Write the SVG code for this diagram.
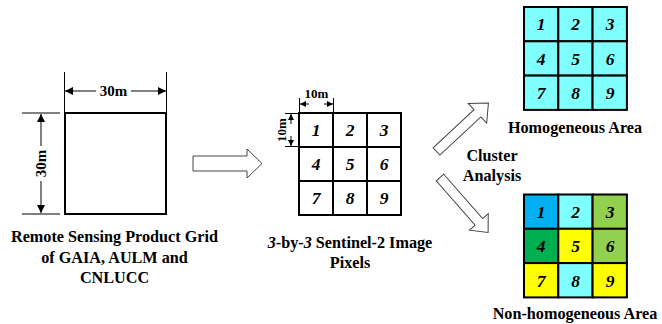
<svg xmlns="http://www.w3.org/2000/svg" width="662" height="324" viewBox="0 0 662 324">
  <style>
    .lbl { font-family: "Liberation Serif", "Times New Roman", serif; font-weight: bold; font-size: 16.2px; fill: #000; }
    .dim { font-family: "Liberation Serif", "Times New Roman", serif; font-weight: bold; font-size: 15px; fill: #000; }
    .dim-s { font-family: "Liberation Serif", "Times New Roman", serif; font-weight: bold; font-size: 13px; fill: #000; }
    .num { font-family: "Liberation Serif", "Times New Roman", serif; font-weight: bold; font-style: italic; font-size: 17.5px; fill: #000; }
    .thin { stroke: #000; stroke-width: 1; fill: none; }
    .cell { stroke: #000; stroke-width: 2; }
    .block { fill: #fff; stroke: #444; stroke-width: 1; }
  </style>
  <defs>
    <marker id="ah" viewBox="0 0 10 10" refX="10" refY="5" markerWidth="9" markerHeight="8" markerUnits="userSpaceOnUse" orient="auto">
      <path d="M0,0 L10,5 L0,10 z" fill="#000"/>
    </marker>
    <marker id="ahs" viewBox="0 0 10 10" refX="10" refY="5" markerWidth="7" markerHeight="6" markerUnits="userSpaceOnUse" orient="auto">
      <path d="M0,0 L10,5 L0,10 z" fill="#000"/>
    </marker>
    <path id="blk-up" d="M0,-5 L56,-5 L56,-13.5 L71,0 L56,13.5 L56,5 L0,5 Z"/>
    <path id="blk-down" d="M0,-5 L59,-5 L59,-12.5 L73,0 L59,12.5 L59,5 L0,5 Z"/>
  </defs>

  <!-- product grid cell, 30 m -->
  <g id="product-grid">
    <rect x="65" y="113" width="101" height="101" fill="#fff" stroke="#000" stroke-width="2"/>
    <line class="thin" x1="64.5" y1="72" x2="64.5" y2="112"/>
    <line class="thin" x1="166.5" y1="72" x2="166.5" y2="112"/>
    <line class="thin" x1="96" y1="91" x2="65" y2="91" marker-end="url(#ah)"/>
    <line class="thin" x1="131" y1="91" x2="166" y2="91" marker-end="url(#ah)"/>
    <text class="dim" x="113.5" y="96" text-anchor="middle">30m</text>
    <line class="thin" x1="22" y1="113" x2="60" y2="113"/>
    <line class="thin" x1="22" y1="214" x2="60" y2="214"/>
    <line class="thin" x1="41" y1="146" x2="41" y2="114" marker-end="url(#ah)"/>
    <line class="thin" x1="41" y1="181" x2="41" y2="213" marker-end="url(#ah)"/>
    <text class="dim" transform="translate(46,163.5) rotate(-90)" text-anchor="middle">30m</text>
    <text class="lbl" x="114.5" y="242" text-anchor="middle">Remote Sensing Product Grid</text>
    <text class="lbl" x="114.5" y="262.5" text-anchor="middle">of GAIA, AULM and</text>
    <text class="lbl" x="114.5" y="283" text-anchor="middle">CNLUCC</text>
  </g>

  <!-- 3x3 Sentinel-2 pixels -->
  <g id="sentinel-pixels">
    <g fill="#fff">
      <rect class="cell" x="299" y="113" width="34" height="34"/>
      <rect class="cell" x="333" y="113" width="34" height="34"/>
      <rect class="cell" x="367" y="113" width="34" height="34"/>
      <rect class="cell" x="299" y="147" width="34" height="34"/>
      <rect class="cell" x="333" y="147" width="34" height="34"/>
      <rect class="cell" x="367" y="147" width="34" height="34"/>
      <rect class="cell" x="299" y="181" width="34" height="34"/>
      <rect class="cell" x="333" y="181" width="34" height="34"/>
      <rect class="cell" x="367" y="181" width="34" height="34"/>
    </g>
    <g text-anchor="middle">
      <text class="num" x="316" y="136">1</text>
      <text class="num" x="350" y="136">2</text>
      <text class="num" x="384" y="136">3</text>
      <text class="num" x="316" y="170">4</text>
      <text class="num" x="350" y="170">5</text>
      <text class="num" x="384" y="170">6</text>
      <text class="num" x="316" y="204">7</text>
      <text class="num" x="350" y="204">8</text>
      <text class="num" x="384" y="204">9</text>
    </g>
    <line class="thin" x1="299.5" y1="98" x2="299.5" y2="112"/>
    <line class="thin" x1="333.5" y1="98" x2="333.5" y2="112"/>
    <line class="thin" x1="309" y1="104" x2="300" y2="104" marker-end="url(#ahs)"/>
    <line class="thin" x1="324" y1="104" x2="333" y2="104" marker-end="url(#ahs)"/>
    <text class="dim-s" x="316.5" y="98" text-anchor="middle">10m</text>
    <line class="thin" x1="285" y1="113.5" x2="299" y2="113.5"/>
    <line class="thin" x1="285" y1="146.5" x2="299" y2="146.5"/>
    <line class="thin" x1="291" y1="124" x2="291" y2="114" marker-end="url(#ahs)"/>
    <line class="thin" x1="291" y1="136" x2="291" y2="146" marker-end="url(#ahs)"/>
    <text class="dim-s" transform="translate(286,130) rotate(-90)" text-anchor="middle">10m</text>
    <text class="lbl" x="350" y="248" text-anchor="middle"><tspan font-style="italic">3</tspan>-by-<tspan font-style="italic">3</tspan> Sentinel-2 Image</text>
    <text class="lbl" x="350" y="268" text-anchor="middle">Pixels</text>
  </g>

  <!-- homogeneous result -->
  <g id="homogeneous">
    <g fill="#80FFFF">
      <rect class="cell" x="524" y="7" width="34.3" height="34.3"/>
      <rect class="cell" x="558.3" y="7" width="34.3" height="34.3"/>
      <rect class="cell" x="592.6" y="7" width="34.3" height="34.3"/>
      <rect class="cell" x="524" y="41.3" width="34.3" height="34.3"/>
      <rect class="cell" x="558.3" y="41.3" width="34.3" height="34.3"/>
      <rect class="cell" x="592.6" y="41.3" width="34.3" height="34.3"/>
      <rect class="cell" x="524" y="75.6" width="34.3" height="34.3"/>
      <rect class="cell" x="558.3" y="75.6" width="34.3" height="34.3"/>
      <rect class="cell" x="592.6" y="75.6" width="34.3" height="34.3"/>
    </g>
    <g text-anchor="middle">
      <text class="num" x="541" y="30">1</text>
      <text class="num" x="575.5" y="30">2</text>
      <text class="num" x="610" y="30">3</text>
      <text class="num" x="541" y="64.5">4</text>
      <text class="num" x="575.5" y="64.5">5</text>
      <text class="num" x="610" y="64.5">6</text>
      <text class="num" x="541" y="99">7</text>
      <text class="num" x="575.5" y="99">8</text>
      <text class="num" x="610" y="99">9</text>
    </g>
    <text class="lbl" x="575" y="133" text-anchor="middle">Homogeneous Area</text>
  </g>

  <!-- non-homogeneous result -->
  <g id="non-homogeneous">
    <rect class="cell" x="524" y="194.5" width="34.3" height="34.3" fill="#00B0F0"/>
    <rect class="cell" x="558.3" y="194.5" width="34.3" height="34.3" fill="#80FFFF"/>
    <rect class="cell" x="592.6" y="194.5" width="34.3" height="34.3" fill="#92D050"/>
    <rect class="cell" x="524" y="228.8" width="34.3" height="34.3" fill="#00B050"/>
    <rect class="cell" x="558.3" y="228.8" width="34.3" height="34.3" fill="#FFFF00"/>
    <rect class="cell" x="592.6" y="228.8" width="34.3" height="34.3" fill="#92D050"/>
    <rect class="cell" x="524" y="263.1" width="34.3" height="34.3" fill="#FFFF00"/>
    <rect class="cell" x="558.3" y="263.1" width="34.3" height="34.3" fill="#80FFFF"/>
    <rect class="cell" x="592.6" y="263.1" width="34.3" height="34.3" fill="#FFFF00"/>
    <g text-anchor="middle">
      <text class="num" x="541" y="217.5">1</text>
      <text class="num" x="575.5" y="217.5">2</text>
      <text class="num" x="610" y="217.5">3</text>
      <text class="num" x="541" y="252">4</text>
      <text class="num" x="575.5" y="252">5</text>
      <text class="num" x="610" y="252">6</text>
      <text class="num" x="541" y="286.5">7</text>
      <text class="num" x="575.5" y="286.5">8</text>
      <text class="num" x="610" y="286.5">9</text>
    </g>
    <text class="lbl" x="575" y="319" text-anchor="middle">Non-homogeneous Area</text>
  </g>

  <!-- block arrows -->
  <g id="connectors">
    <path class="block" d="M193,156 L247,156 L247,149 L262,163.5 L247,178 L247,171 L193,171 Z"/>
    <use href="#blk-up" class="block" transform="translate(436.5,151.5) rotate(-43)"/>
    <use href="#blk-down" class="block" transform="translate(440,177.5) rotate(48.8)"/>
    <text class="lbl" x="492" y="161" text-anchor="middle">Cluster</text>
    <text class="lbl" x="492" y="181" text-anchor="middle">Analysis</text>
  </g>
</svg>
